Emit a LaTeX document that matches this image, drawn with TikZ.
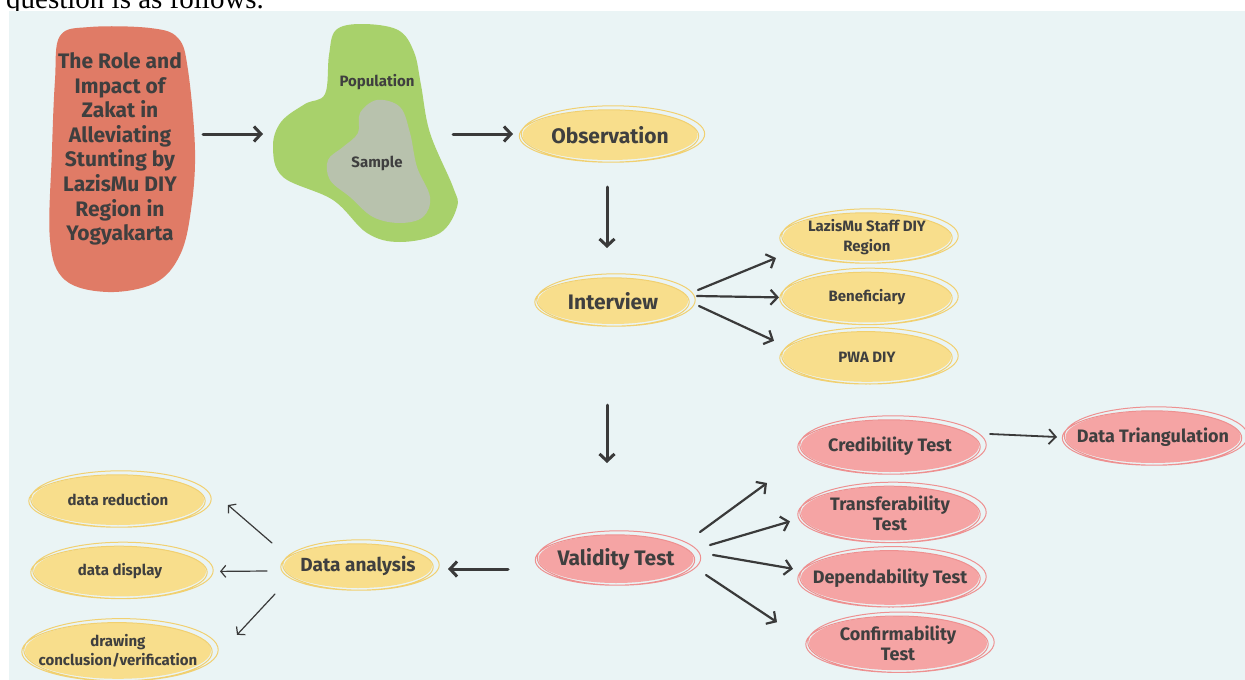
\documentclass[tikz,border=0pt]{standalone}
\usepackage{fontspec}
\setmainfont{Fira Sans}
\newfontfamily\introfont{Liberation Serif}
\usetikzlibrary{arrows.meta, calc, positioning, shapes.geometric}

\definecolor{bgc}{HTML}{EAF4F5}
\definecolor{zred}{HTML}{E07B66}
\definecolor{pgreen}{HTML}{A8D16B}
\definecolor{sgray}{HTML}{B8C2AD}
\definecolor{ylw}{HTML}{F8DE8C}
\definecolor{ylwring}{HTML}{F1D070}
\definecolor{pnk}{HTML}{F5A4A4}
\definecolor{pnkring}{HTML}{EE9090}
\definecolor{ink}{HTML}{3F3F3F}
\definecolor{arrowc}{HTML}{3A3A3A}

\newcommand\bigtxt{\fontsize{21}{24.6}\selectfont\bfseries}
\newcommand\midtxt{\fontsize{19}{22}\selectfont\bfseries}
\newcommand\pinktxt{\fontsize{18}{20}\selectfont\bfseries}
\newcommand\smalltxt{\fontsize{15}{19.5}\selectfont\bfseries}

\begin{document}
\begin{tikzpicture}[
    x=1pt, y=-1pt,
    node distance=10pt,
    ybub/.style={ellipse, fill=ylw, inner xsep=-40pt, inner ysep=-8pt, align=center, text=ink, font=\smalltxt},
    pbub/.style={ybub, fill=pnk, font=\pinktxt},
    ring/.style={draw=#1, line width=1pt},
    blobtxt/.style={text=ink, align=center, inner sep=0pt},
    bigarrow/.style={-{Straight Barb[length=7pt,width=15pt]}, line width=3pt, line cap=round, draw=arrowc},
    arrow/.style={bigarrow, line width=2.2pt},
    thinarrow/.style={-{Straight Barb[length=5pt,width=12pt]}, line width=1.2pt, line cap=round, draw=arrowc}
]
\useasboundingbox (0,0) rectangle (1245,680);
\node[anchor=base west, inner sep=0pt, font=\introfont\fontsize{29}{33}\selectfont] (intro) at (6,9) {question is as follows.};
\fill[bgc] (9,11) rectangle (1245,680);

\fill[zred] plot[smooth cycle, tension=0.6] coordinates {(60,36) (90,27) (150,28) (178,38) (188,70) (195,150) (191,210) (180,255) (155,283) (108,292) (65,280) (50,240) (52,150) (55,80)};
\fill[pgreen] plot[smooth cycle, tension=0.6] coordinates {(336,30) (362,24) (398,30) (414,52) (421,85) (430,133) (453,187) (457,207) (440,233) (400,242) (367,233) (333,200) (283,177) (273,147) (281,122) (305,104) (325,94) (329,55)};
\fill[sgray] plot[smooth cycle, tension=0.6] coordinates {(360,113) (377,100) (400,107) (410,133) (417,167) (430,197) (423,217) (400,223) (373,217) (350,197) (330,180) (328,160) (343,147) (358,133)};

\node[blobtxt, font=\bigtxt] (zakat) at (120,149) {The Role and\\Impact of\\Zakat in\\Alleviating\\Stunting by\\LazisMu DIY\\Region in\\Yogyakarta};
\node[blobtxt, font=\smalltxt] (poplbl) at (377,82) {Population};
\node[blobtxt, font=\smalltxt] (sample) at (377,163) {Sample};

\node[ybub, font=\bigtxt, minimum width=175pt, minimum height=50pt] (obs) at (610,135) {Observation};
\node[ybub, font=\bigtxt, minimum width=150pt, minimum height=46pt] (intv) at (613,301) {Interview};
\node[ybub, minimum width=168pt, minimum height=48pt] (staff) at (867,237) {LazisMu Staff DIY\\Region};
\node[ybub, minimum width=168pt, minimum height=50pt, below=11pt of staff] (benef) {Beneficiary};
\node[ybub, minimum width=168pt, minimum height=50pt, below=9pt of benef] (pwa) {PWA DIY};

\node[pbub, font=\bigtxt, minimum width=155pt, minimum height=48pt] (valid) at (616,559) {Validity Test};
\node[pbub, minimum width=178pt, minimum height=52pt] (cred) at (890,446) {Credibility Test};
\node[pbub, minimum width=178pt, minimum height=54pt, below=14pt of cred] (transf) {Transferability\\Test};
\node[pbub, minimum width=178pt, minimum height=54pt, below=10pt of transf] (depend) {Dependability Test};
\node[pbub, minimum width=178pt, minimum height=54pt, below=11pt of depend, xshift=8pt] (confirm) {Confirmability\\Test};
\node[pbub, minimum width=175pt, minimum height=52pt] (tri) at (1153,437) {Data Triangulation};

\node[ybub, font=\midtxt, minimum width=148pt, minimum height=44pt] (danal) at (358,566) {Data analysis};
\node[ybub, minimum width=172pt, minimum height=50pt] (dred) at (118,500) {data reduction};
\node[ybub, minimum width=172pt, minimum height=50pt, below=21pt of dred, xshift=2pt] (ddisp) {data display};
\node[ybub, minimum width=186pt, minimum height=56pt, below=26pt of ddisp, xshift=-2pt] (dconc) {drawing\\conclusion/verification};

\foreach \bub/\c in {obs/ylwring, intv/ylwring, staff/ylwring, benef/ylwring, pwa/ylwring, danal/ylwring, dred/ylwring, ddisp/ylwring, dconc/ylwring, valid/pnkring, cred/pnkring, transf/pnkring, depend/pnkring, confirm/pnkring, tri/pnkring}
  \draw[ring=\c] let \p1=($(\bub.east)-(\bub.center)$), \p2=($(\bub.north)-(\bub.center)$) in
    ($(\bub.center)+(3,-1)$) ellipse [x radius=\x1+4pt, y radius=\y2+3pt]
    ($(\bub.center)+(-1,1)$) ellipse [x radius=\x1+2pt, y radius=\y2+1pt];

\draw[bigarrow] ($(zakat.center)+(83,-15)$) -- ($(sample.center)+(-114,-29)$);
\draw[bigarrow] ($(sample.center)+(76,-29)$) -- ($(obs.center)+(-97,-1)$);
\draw[bigarrow] ($(obs.center)+(-3,52)$) -- ($(intv.center)+(-6,-53)$);
\draw[bigarrow] ($(intv.center)+(-6,104)$) -- ($(valid.center)+(-9,-96)$);
\draw[bigarrow] ($(valid.center)+(-108,10)$) -- ($(danal.center)+(90,3)$);

\draw[arrow] ($(intv.center)+(85,-11)$) -- ($(staff.center)+(-91,21)$);
\draw[arrow] ($(intv.center)+(84,-5)$) -- ($(benef.center)+(-88,0)$);
\draw[arrow] ($(intv.center)+(86,5)$) -- ($(pwa.center)+(-93,-16)$);

\draw[arrow] ($(valid.center)+(84,-27)$) -- ($(cred.center)+(-123,37)$);
\draw[arrow] ($(valid.center)+(94,-14)$) -- ($(transf.center)+(-100,8)$);
\draw[arrow] ($(valid.center)+(97,-4)$) -- ($(depend.center)+(-97,-9)$);
\draw[arrow] ($(valid.center)+(90,16)$) -- ($(confirm.center)+(-121,-21)$);
\draw[arrow, line width=1.8pt] ($(cred.center)+(100,-12)$) -- ($(tri.center)+(-96,0)$);

\draw[thinarrow] ($(danal.center)+(-86,-23)$) -- ($(dred.center)+(110,5)$);
\draw[thinarrow] ($(danal.center)+(-91,5)$) -- ($(ddisp.center)+(100,0)$);
\draw[thinarrow] ($(danal.center)+(-83,28)$) -- ($(dconc.center)+(119,-16)$);
\end{tikzpicture}
\end{document}
